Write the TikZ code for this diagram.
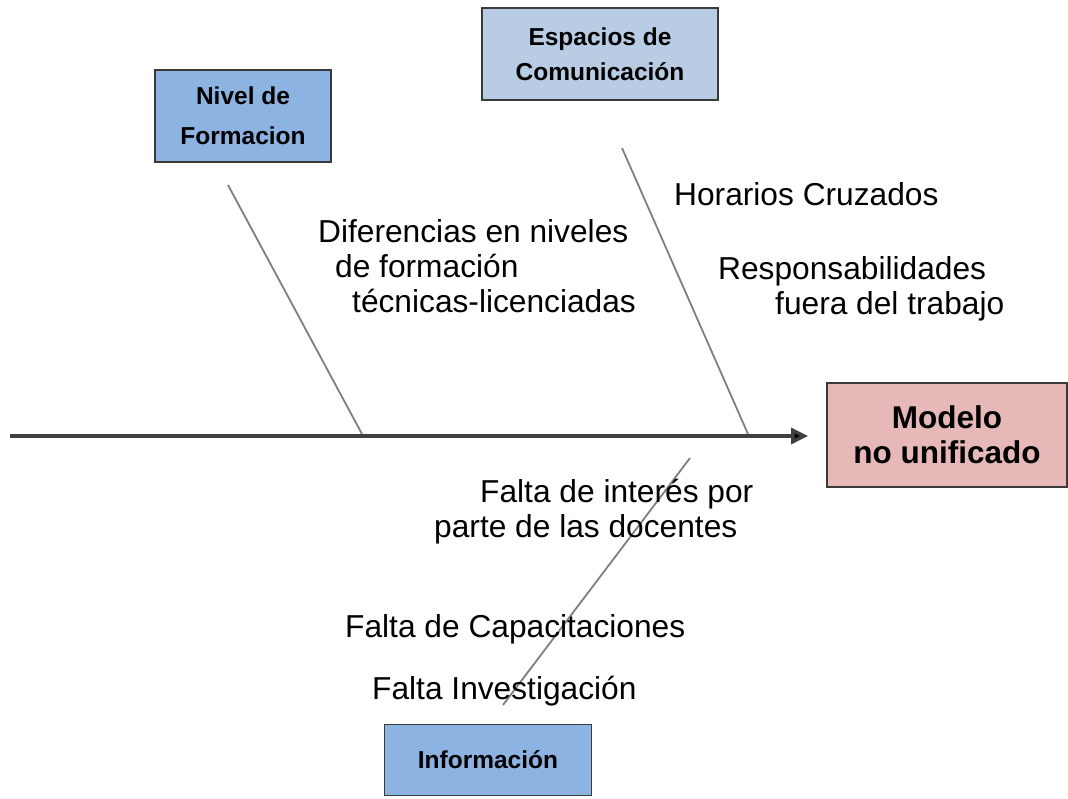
\documentclass[tikz,border=0pt]{standalone}
\usepackage{fontspec}
\setmainfont{Liberation Sans}
\usetikzlibrary{arrows.meta}
\definecolor{boxblue}{HTML}{8DB3E2}
\definecolor{boxlight}{HTML}{B8CCE4}
\definecolor{boxpink}{HTML}{E6B9B8}
\definecolor{bordergray}{HTML}{3A3A3A}
\definecolor{bonegray}{HTML}{7F7F7F}
\definecolor{spinegray}{HTML}{404040}
\tikzset{
  causebox/.style={draw=bordergray, line width=1.6pt, align=center, inner sep=0pt,
    font=\fontsize{24.5}{40}\selectfont\bfseries},
  effectbox/.style={draw=bordergray, line width=1.6pt, fill=boxpink, align=center, inner sep=0pt,
    font=\fontsize{31.5}{35}\selectfont\bfseries},
  lbl/.style={anchor=base west, inner sep=0pt, font=\fontsize{31.7}{34}\selectfont},
  bone/.style={draw=bonegray, line width=1.8pt},
  spine/.style={draw=spinegray, line width=3.5pt, -{Triangle[length=17pt,width=16pt,fill=black]}}
}
\begin{document}
\begin{tikzpicture}[x=1pt,y=-1pt]
\useasboundingbox (0,0) rectangle (1068,798);
% boxes
\node[causebox, fill=boxblue, minimum width=176pt, minimum height=92pt] (nivel) at (243,116) {Nivel de\\Formacion};
\node[causebox, fill=boxlight, minimum width=236pt, minimum height=92pt, font=\fontsize{24.5}{35}\selectfont\bfseries] (espacios) at (600,54) {Espacios de\\Comunicación};
\node[effectbox, minimum width=240pt, minimum height=104pt] (modelo) at (947,435) {Modelo\\no unificado};
\node[causebox, fill=boxblue, minimum width=207pt, minimum height=71pt] (info) at (488,760) {Información};
% spine
\coordinate (sstart) at (10,436);
\draw[spine] (sstart) -- (808,436) coordinate (send);
% bones
\coordinate (n1) at (228,185);
\coordinate (n2) at (362,434);
\coordinate (e1) at (622,148);
\coordinate (e2) at (748,434);
\coordinate (i1) at (690,458);
\coordinate (i2) at (503,705);
\draw[bone] (n1) -- (n2);
\draw[bone] (e1) -- (e2);
\draw[bone] (i1) -- (i2);
% labels
\node[lbl] (t1) at (318,242) {Diferencias en niveles};
\node[lbl] (t2) at (335,277) {de formación};
\node[lbl] (t3) at (352,312) {técnicas-licenciadas};
\node[lbl] (t4) at (674,205) {Horarios Cruzados};
\node[lbl] (t5) at (718,279) {Responsabilidades};
\node[lbl] (t6) at (775,314) {fuera del trabajo};
\node[lbl] (t7) at (480,502) {Falta de interés por};
\node[lbl] (t8) at (434,537) {parte de las docentes};
\node[lbl] (t9) at (345,637) {Falta de Capacitaciones};
\node[lbl] (t10) at (372,699) {Falta Investigación};
\end{tikzpicture}
\end{document}
